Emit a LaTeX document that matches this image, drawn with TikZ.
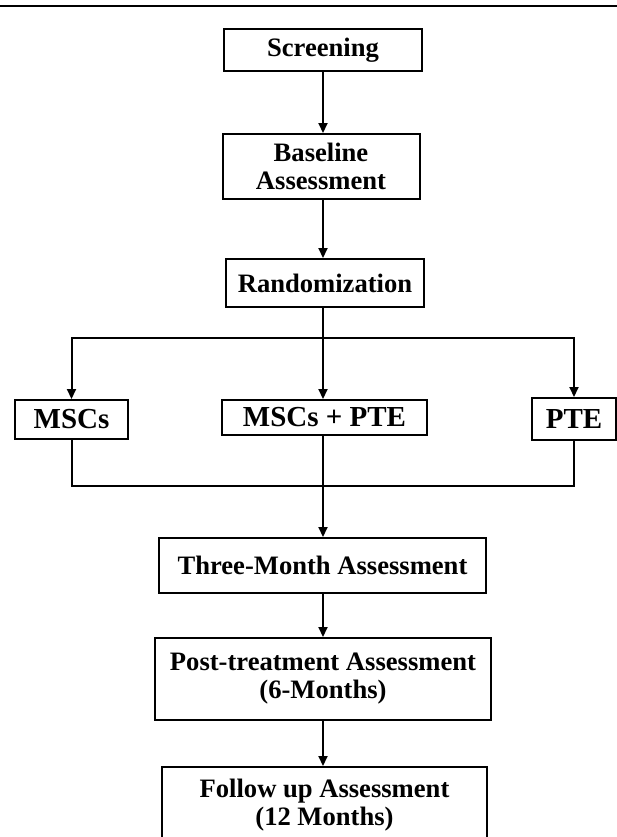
\documentclass[tikz,border=0pt]{standalone}
\usepackage{fontspec}
\setmainfont{Liberation Serif}
\usetikzlibrary{arrows.meta}

\begin{document}
\begin{tikzpicture}[x=0.5pt, y=-0.5pt,
    box/.style={draw, line width=1pt, inner sep=0pt, align=center,
      font=\fontsize{13.3}{14}\selectfont\bfseries},
    arm/.style={box, font=\fontsize{14.5}{15}\selectfont\bfseries},
    wire/.style={line width=1pt},
    arrow/.style={wire, -{Triangle[width=4.5pt,length=5pt]}}]
        \useasboundingbox (0, 0) rectangle (617, 837);
        \clip (0, 0) rectangle (617, 837);
        % Paths, nodes and wires:
        \draw[line width=1.3pt] (0, 6) -- (617, 6);
        \draw node[box, minimum width=99pt, minimum height=21pt] (N1) at (323, 50) {Screening};
        \draw node[box, minimum width=98.5pt, minimum height=32.5pt] (N2) at (321, 166.5) {Baseline\\Assessment};
        \draw node[box, minimum width=99pt, minimum height=24pt] (N3) at (325, 283) {Randomization};
        \draw node[arm, minimum width=56.5pt, minimum height=19.5pt] (N4) at (71.5, 419.5) {MSCs};
        \draw node[arm, minimum width=102.5pt, minimum height=17.5pt] (N5) at (324.5, 417.5) {MSCs + PTE};
        \draw node[arm, minimum width=42pt, minimum height=21pt] (N6) at (574, 419) {PTE};
        \draw node[box, minimum width=163.5pt, minimum height=27.5pt] (N7) at (322.5, 565.5) {Three-Month Assessment};
        \draw node[box, minimum width=168pt, minimum height=41pt] (N8) at (323, 679) {Post-treatment Assessment\\(6-Months)};
        \draw node[box, minimum width=162.5pt, minimum height=38pt] (N9) at (324.5, 805) {Follow up Assessment\\(12 Months)};
        \coordinate (C1) at (323, 338);
        \coordinate (C2) at (323, 486);
        \draw[arrow] (N1.south) -- (N2.north -| N1.south);
        \draw[arrow] (N2.south -| N1.south) -- (N3.north -| N1.south);
        \draw[wire] (N3.south -| C1) -- (C1);
        \draw[arrow] (C1) -| (N4.north);
        \draw[arrow] (C1) -- (N5.north -| C1);
        \draw[arrow] (C1) -| (N6.north);
        \draw[wire] (N4.south) |- (C2) -| (N6.south);
        \draw[arrow] (N5.south -| C2) -- (N7.north -| C2);
        \draw[arrow] (N7.south -| C2) -- (N8.north -| C2);
        \draw[arrow] (N8.south -| C2) -- (N9.north -| C2);
\end{tikzpicture}
\end{document}
